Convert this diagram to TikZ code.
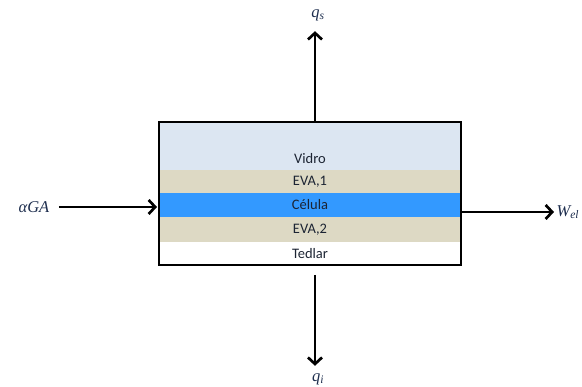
\documentclass[tikz,border=0pt]{standalone}
\usepackage{fontspec}
\setmainfont{Carlito}
\newfontfamily\rotfont{Liberation Serif}
\usepackage{xcolor}
\usetikzlibrary{arrows.meta,positioning,calc}
\definecolor{vidrocor}{HTML}{DCE6F2}
\definecolor{evacor}{HTML}{DDD9C4}
\definecolor{celcor}{HTML}{3399FF}
\definecolor{matcor}{HTML}{1F2F4F}
\definecolor{txtcor}{HTML}{1C2433}

\begin{document}
\begin{tikzpicture}[x=1pt, y=1pt, >={Straight Barb[length=6.5pt,width=14pt]},
  layer/.style={minimum width=302pt, inner sep=0pt, outer sep=0pt, text=txtcor, font=\fontsize{14.5}{17}\selectfont},
  fluxo/.style={->, line width=2.7pt},
  rotulo/.style={text=matcor, font=\rotfont\itshape\fontsize{16.5}{18}\selectfont}]
  \useasboundingbox (0,0) rectangle (582,387);
  \node[layer, minimum height=48pt, fill=vidrocor, anchor=north west] (V) at (159,265) {};
  \node[layer, minimum height=23pt, fill=evacor, below=0pt of V] (E1) {EVA,1};
  \node[layer, minimum height=24pt, fill=celcor, below=0pt of E1] (C) {Célula};
  \node[layer, minimum height=25pt, fill=evacor, below=0pt of C] (E2) {EVA,2};
  \node[layer, minimum height=23pt, below=0pt of E2] (T) {Tedlar};
  \node[layer, minimum width=0pt] (Vt) at ($(V.south)+(0,11)$) {Vidro};
  \draw[line width=1.7pt] (V.north west) rectangle (T.south east);
  \node[rotulo] (qs) at (318,372) {q\textsubscript{s}};
  \node[rotulo] (qi) at (318,8) {q\textsubscript{i}};
  \node[rotulo] (aGA) at (34,180) {αGA};
  \node[rotulo, anchor=west] (W) at (553,175) {W\textsubscript{el}};
  \draw[fluxo] (V.north -| 315,0) -- ([yshift=-7pt]qs.south -| 315,0);
  \draw[fluxo] ([yshift=-10pt]T.south -| 315,0) -- ([yshift=4pt]qi.north -| 315,0);
  \draw[fluxo] ([xshift=6pt]aGA.east) -- ([xshift=-2pt]aGA -| V.west);
  \draw[fluxo] (W -| C.east) -- ([xshift=1pt]W.west);
\end{tikzpicture}
\end{document}
